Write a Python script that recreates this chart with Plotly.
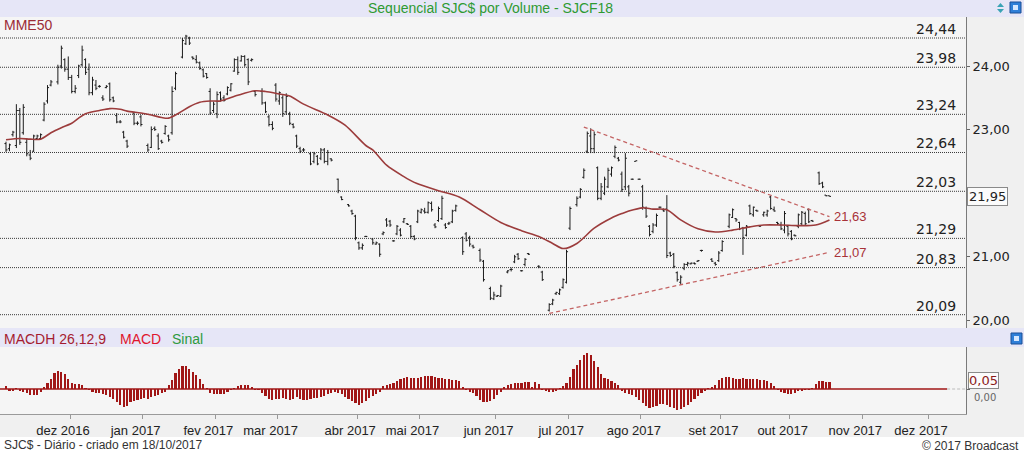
import plotly.graph_objects as go
import pandas as pd

# ---------------- calendar (B3 trading days) ----------------
holidays = ["2016-11-15", "2016-12-30", "2017-01-25", "2017-02-27", "2017-02-28",
            "2017-04-14", "2017-04-21", "2017-05-01", "2017-06-15", "2017-09-07",
            "2017-10-12", "2017-11-02", "2017-11-15", "2017-11-20", "2017-12-25",
            "2017-12-29"]
trade_dates = [d.strftime("%Y-%m-%d") for d in pd.bdate_range("2016-11-03", "2017-12-31")
               if d.strftime("%Y-%m-%d") not in holidays]

month_keys = ["2016-12", "2017-01", "2017-02", "2017-03", "2017-04", "2017-05", "2017-06",
              "2017-07", "2017-08", "2017-09", "2017-10", "2017-11", "2017-12"]
month_labels = ["dez 2016", "jan 2017", "fev 2017", "mar 2017", "abr 2017", "mai 2017",
                "jun 2017", "jul 2017", "ago 2017", "set 2017", "out 2017", "nov 2017",
                "dez 2017"]

# ---------------- price bars (one per trading day, None = no trade) ----------------
N = None
highs = [22.81, 22.78, 22.98, 23.40, 23.34, 23.40, 22.86, 22.68, 22.92, 22.92,
         22.94, 23.43, 23.70, 23.78, N, 24.02, 24.32, 24.12, 24.15, 23.86,
         23.70, 24.02, 24.32, 24.12, 24.04, 23.83, 23.78, 23.70, 23.54, 23.70,
         23.74, 23.52, 23.26, 23.15, 22.98, 22.84, N, 23.28, 23.13, 23.23,
         N, 22.78, 23.05, 23.05, 22.94, 22.84, 23.07, 22.92, 23.68, 23.91,
         N, 24.44, 24.49, 24.46, 24.15, 24.17, 24.07, 23.96, 23.89, 23.65,
         23.44, 23.60, 23.60, 23.54, 23.68, 23.73, 24.12, 24.15, 24.17, 24.17,
         24.12, 24.12, 23.62, N, 23.65, 23.44, 23.23, 23.13, 23.73, 23.60,
         23.54, 23.57, 23.28, 23.10, 22.92, 22.73, 22.71, N, 22.65, 22.65,
         22.60, 22.71, 22.71, 22.68, 22.55, N, 22.23, 21.95, N, 21.83,
         21.74, 21.66, 21.24, 21.21, 21.33, N, 21.29, 21.24, 21.21, 21.40,
         21.61, 21.58, 21.26, 21.50, 21.45, 21.61, 21.53, 21.50, 21.34, 21.74,
         21.76, 21.77, 21.87, 21.87, 21.53, 21.79, 21.96, 21.53, 21.55, 21.74,
         21.82, N, 21.32, 21.39, 21.33, 21.19, N, 21.13, 20.95, N,
         20.53, 20.45, 20.40, 20.56, N, 20.79, 20.83, 21.03, 21.06, 20.79,
         20.98, 21.06, N, N, 20.87, 20.78, N, 20.27, 20.34, 20.45,
         20.50, 20.66, 21.11, 21.79, N, 21.95, 22.08, 22.39, 22.97, 23.02,
         22.97, 22.42, 22.16, 22.26, 22.40, 22.42, 22.75, 22.57, 22.34, 22.63,
         22.13, 22.23, 22.51, 22.23, 22.13, 21.79, 21.50, 21.53, 21.68, 21.79,
         21.76, 21.97, 21.08, 21.06, 20.77, 20.71, 20.90, 20.92, 20.91, 20.91,
         20.95, 21.11, N, N, 20.98, 20.92, 21.09, 21.26, N, 21.68,
         21.76, 21.61, 21.55, 21.47, 21.50, 21.82, 21.79, 21.74, 21.50, 21.71,
         21.74, 21.96, 21.79, 21.55, 21.55, 21.72, 21.50, 21.42, 21.35, 21.68,
         21.72, 21.71, 21.76, 21.58, N, 22.34, 22.18, 21.97, 21.96]
lows = [22.65, 22.66, 22.89, 22.71, 22.76, 22.92, 22.58, 22.52, 22.65, 22.84,
        22.84, 23.13, 23.41, 23.68, N, 23.71, 23.96, 23.91, 23.78, 23.57,
        23.57, 23.81, 23.99, 23.86, 23.54, 23.54, 23.62, 23.66, 23.45, 23.65,
        23.44, 23.43, 23.10, 23.10, 22.86, 22.71, N, 23.07, 23.07, 23.05,
        N, 22.65, 22.71, 22.98, 22.68, 22.78, 22.92, 22.81, 22.92, 23.62,
        N, 24.12, 24.33, 24.33, 24.10, 24.04, 23.94, 23.82, 23.80, 23.23,
        23.26, 23.18, 23.44, 23.44, 23.54, 23.60, 23.91, 23.86, 24.07, 23.99,
        23.70, 24.07, 23.52, N, 23.39, 23.26, 23.05, 22.99, 23.44, 23.39,
        23.20, 23.23, 23.07, 23.02, 22.71, 22.63, 22.65, N, 22.44, 22.47,
        22.44, 22.52, 22.47, 22.44, 22.50, N, 22.00, 21.89, N, 21.79,
        21.66, 21.26, 21.11, 21.11, 21.31, N, 21.19, 21.19, 21.00, 21.34,
        21.47, 21.47, 21.24, 21.34, 21.32, 21.53, 21.50, 21.29, 21.26, 21.53,
        21.68, 21.68, 21.68, 21.71, 21.45, 21.55, 21.58, 21.44, 21.50, 21.53,
        21.71, N, 21.03, 21.24, 21.16, 21.13, N, 20.92, 20.61, N,
        20.32, 20.32, 20.37, 20.37, N, 20.74, 20.77, 20.90, 20.95, 20.77,
        20.85, 21.03, N, N, 20.82, 20.62, N, 20.14, 20.24, 20.40,
        20.40, 20.50, 20.58, 21.42, N, 21.79, 21.92, 22.23, 22.63, 22.63,
        22.63, 21.89, 21.89, 21.97, 22.08, 22.26, 22.55, 22.50, 22.02, 22.05,
        21.95, 22.21, 22.50, 22.21, 21.74, 21.61, 21.32, 21.37, 21.47, 21.76,
        21.71, 20.98, 21.00, 20.82, 20.61, 20.56, 20.79, 20.85, 20.88, 20.88,
        20.92, 21.08, N, N, 20.92, 20.86, 20.92, 21.08, N, 21.45,
        21.61, 21.55, 21.42, 21.03, 21.32, 21.66, 21.63, 21.71, 21.47, 21.63,
        21.63, 21.74, 21.71, 21.50, 21.42, 21.37, 21.32, 21.26, 21.32, 21.45,
        21.50, 21.50, 21.53, 21.55, N, 22.13, 22.08, 21.95, 21.95]
opens = [22.78, 22.70, 22.92, 22.75, 23.30, 22.95, 22.80, 22.60, 22.66, 22.86,
         22.86, 23.15, 23.45, 23.70, N, 23.75, 24.00, 24.10, 23.95, 23.82,
         23.60, 23.85, 24.02, 24.10, 23.95, 23.58, 23.70, 23.68, 23.50, 23.66,
         23.72, 23.50, 23.22, 23.12, 22.96, 22.82, N, 23.26, 23.10, 23.20,
         N, 22.75, 22.72, 23.02, 22.90, 22.82, 22.94, 22.90, 22.95, 23.65,
         N, 24.14, 24.35, 24.44, 24.14, 24.10, 24.05, 23.94, 23.88, 23.60,
         23.30, 23.25, 23.58, 23.50, 23.56, 23.62, 23.92, 24.10, 24.08, 24.15,
         24.10, 24.09, 23.60, N, 23.60, 23.42, 23.20, 23.08, 23.70, 23.45,
         23.50, 23.28, 23.25, 23.08, 22.90, 22.70, 22.68, N, 22.62, 22.50,
         22.58, 22.55, 22.68, 22.50, 22.54, N, 22.22, 21.94, N, 21.82,
         21.72, 21.64, 21.22, 21.14, 21.32, N, 21.28, 21.20, 21.20, 21.36,
         21.58, 21.56, 21.25, 21.36, 21.42, 21.55, 21.52, 21.48, 21.32, 21.55,
         21.70, 21.72, 21.70, 21.84, 21.50, 21.57, 21.60, 21.50, 21.52, 21.55,
         21.73, N, 21.30, 21.36, 21.30, 21.17, N, 21.10, 20.93, N,
         20.50, 20.34, 20.38, 20.38, N, 20.76, 20.80, 20.92, 21.04, 20.78,
         20.88, 21.05, N, N, 20.85, 20.76, N, 20.16, 20.26, 20.42,
         20.42, 20.52, 20.60, 21.45, N, 21.82, 21.94, 22.25, 22.66, 22.90,
         22.70, 22.40, 21.92, 22.00, 22.10, 22.30, 22.58, 22.55, 22.30, 22.10,
         22.10, 22.22, 22.50, 22.22, 22.10, 21.76, 21.48, 21.40, 21.50, 21.78,
         21.74, 21.75, 21.06, 21.04, 20.75, 20.60, 20.82, 20.88, 20.89, 20.90,
         20.93, 21.10, N, N, 20.96, 20.90, 20.94, 21.10, N, 21.48,
         21.62, 21.60, 21.54, 21.45, 21.34, 21.80, 21.66, 21.73, 21.48, 21.66,
         21.66, 21.94, 21.74, 21.54, 21.50, 21.42, 21.48, 21.40, 21.34, 21.48,
         21.52, 21.68, 21.74, 21.57, N, 22.32, 22.16, 21.97, 21.96]
closes = [22.68, 22.76, 22.96, 23.30, 22.80, 23.35, 22.62, 22.55, 22.90, 22.90,
          22.92, 23.40, 23.66, 23.75, N, 23.98, 24.28, 23.95, 23.82, 23.60,
          23.65, 24.00, 24.25, 23.90, 23.58, 23.78, 23.65, 23.68, 23.48, 23.68,
          23.47, 23.45, 23.12, 23.12, 22.88, 22.74, N, 23.10, 23.10, 23.08,
          N, 22.68, 23.00, 23.00, 22.70, 22.80, 23.05, 22.84, 23.60, 23.88,
          N, 24.40, 24.47, 24.36, 24.12, 24.06, 23.96, 23.84, 23.82, 23.26,
          23.40, 23.55, 23.48, 23.46, 23.66, 23.72, 24.10, 23.90, 24.15, 24.02,
          23.75, 24.10, 23.55, N, 23.42, 23.28, 23.08, 23.02, 23.48, 23.58,
          23.25, 23.52, 23.10, 23.04, 22.74, 22.66, 22.68, N, 22.46, 22.62,
          22.46, 22.68, 22.50, 22.64, 22.52, N, 22.04, 21.90, N, 21.80,
          21.68, 21.30, 21.14, 21.18, 21.32, N, 21.22, 21.22, 21.04, 21.38,
          21.50, 21.50, 21.25, 21.48, 21.34, 21.60, 21.51, 21.32, 21.28, 21.72,
          21.74, 21.70, 21.85, 21.74, 21.47, 21.76, 21.92, 21.46, 21.53, 21.72,
          21.80, N, 21.08, 21.26, 21.20, 21.15, N, 20.95, 20.64, N,
          20.35, 20.40, 20.39, 20.54, N, 20.78, 20.80, 21.00, 20.97, 20.78,
          20.96, 21.04, N, N, 20.84, 20.64, N, 20.25, 20.32, 20.44,
          20.48, 20.64, 21.08, 21.76, N, 21.92, 22.06, 22.36, 22.94, 22.70,
          22.92, 21.92, 22.10, 22.22, 22.36, 22.40, 22.72, 22.52, 22.06, 22.55,
          22.00, 22.22, 22.51, 22.22, 21.78, 21.64, 21.35, 21.50, 21.65, 21.78,
          21.72, 21.02, 21.02, 20.85, 20.64, 20.68, 20.88, 20.90, 20.90, 20.89,
          20.94, 21.10, N, N, 20.93, 20.88, 21.06, 21.24, N, 21.66,
          21.74, 21.58, 21.44, 21.30, 21.48, 21.68, 21.78, 21.72, 21.49, 21.70,
          21.72, 21.76, 21.72, 21.52, 21.44, 21.68, 21.36, 21.28, 21.33, 21.66,
          21.70, 21.52, 21.55, 21.56, N, 22.15, 22.10, 21.96, 21.95]

# ---------------- MME50 ----------------
ema_idx = [0, 4, 7, 10, 13, 16, 19, 21, 23, 27, 30, 33, 35, 39, 42, 45, 47, 50, 53, 56,
           59, 62, 67, 72, 75, 79, 82, 86, 93, 98, 104, 106, 110, 115, 118, 120, 125, 131,
           137, 143, 149, 154, 158, 161, 165, 170, 175, 178, 180, 184, 187, 191, 195, 200,
           205, 210, 215, 219, 224, 229, 234, 238]
ema_vals = [22.84, 22.86, 22.85, 22.85, 22.95, 23.03, 23.10, 23.18, 23.25, 23.30, 23.33,
            23.32, 23.29, 23.26, 23.23, 23.19, 23.18, 23.26, 23.36, 23.43, 23.45, 23.45,
            23.54, 23.61, 23.60, 23.56, 23.53, 23.40, 23.23, 23.07, 22.75, 22.68, 22.44,
            22.26, 22.17, 22.13, 22.04, 21.94, 21.74, 21.54, 21.41, 21.32, 21.21, 21.13,
            21.21, 21.45, 21.61, 21.68, 21.72, 21.77, 21.75, 21.74, 21.58, 21.44, 21.39,
            21.42, 21.47, 21.50, 21.50, 21.49, 21.50, 21.58]

# ---------------- trend lines ----------------
upper_idx = [167, 238]
upper_vals = [23.04, 21.63]
lower_idx = [157, 238]
lower_vals = [20.11, 21.07]

# ---------------- horizontal levels ----------------
levels = [24.44, 23.98, 23.24, 22.64, 22.03, 21.29, 20.83, 20.09]
price_ticks = [20.0, 21.0, 23.0, 24.0]
last_price = 21.95

# ---------------- MACD histogram ----------------
macdh = [0.019, -0.011, -0.016, 0.007, -0.011, -0.021, -0.032, -0.043, -0.045, -0.043,
         -0.018, 0.014, 0.043, 0.071, 0.114, 0.126, 0.125, 0.107, 0.071, 0.043,
         0.036, 0.039, 0.029, 0.007, -0.007, -0.018, -0.025, -0.032, -0.039, -0.046,
         -0.057, -0.071, -0.093, -0.114, -0.131, -0.121, -0.093, -0.089, -0.079, -0.071,
         -0.061, -0.068, -0.057, -0.050, -0.043, -0.032, -0.018, 0.029, 0.064, 0.114,
         0.146, 0.164, 0.161, 0.143, 0.121, 0.100, 0.071, 0.036, 0.007, -0.029,
         -0.036, -0.039, -0.039, -0.036, -0.021, -0.004, 0.007, 0.021, 0.032, 0.029,
         0.029, 0.011, -0.004, -0.007, -0.029, -0.050, -0.071, -0.079, -0.071, -0.068,
         -0.064, -0.068, -0.075, -0.068, -0.057, -0.071, -0.082, -0.079, -0.071, -0.064,
         -0.061, -0.057, -0.050, -0.036, -0.029, -0.021, -0.029, -0.036, -0.057, -0.071,
         -0.086, -0.100, -0.111, -0.100, -0.086, -0.064, -0.050, -0.036, -0.021, 0.018,
         0.032, 0.039, 0.046, 0.057, 0.071, 0.079, 0.086, 0.082, 0.079, 0.082,
         0.089, 0.096, 0.096, 0.093, 0.089, 0.082, 0.079, 0.071, 0.068, 0.064,
         0.061, 0.057, 0.014, -0.007, -0.018, -0.032, -0.050, -0.079, -0.093, -0.096,
         -0.089, -0.071, -0.043, -0.018, 0.011, 0.029, 0.036, 0.043, 0.043, 0.046,
         0.050, 0.050, 0.011, 0.050, 0.036, -0.007, -0.014, -0.021, -0.021, -0.014,
         0.007, 0.021, 0.043, 0.089, 0.143, 0.171, 0.207, 0.243, 0.257, 0.246,
         0.200, 0.157, 0.107, 0.079, 0.068, 0.057, 0.046, 0.029, -0.014, -0.025,
         -0.036, -0.043, -0.057, -0.079, -0.100, -0.121, -0.136, -0.132, -0.118, -0.107,
         -0.104, -0.111, -0.125, -0.139, -0.150, -0.146, -0.132, -0.114, -0.093, -0.071,
         -0.050, -0.029, -0.011, 0.004, 0.014, 0.029, 0.064, 0.082, 0.089, 0.086,
         0.079, 0.071, 0.075, 0.079, 0.075, 0.075, 0.071, 0.068, 0.064, 0.061,
         0.057, 0.046, 0.025, -0.007, -0.018, -0.025, -0.036, -0.036, -0.025, -0.014,
         -0.011, -0.007, -0.007, 0.004, 0.036, 0.057, 0.054, 0.050, 0.050]
macdh_last = 0.05
macd_zero_label = "0,00"
macd_line_end = 272

# ---------------- geometry ----------------
W, H = 1024, 453
def px(x):
    return x / W
def py(y):
    return (H - y) / H

X_RANGE = [-1.73, 277.46]
X_DOM = [0, px(966)]
PRICE_DOM = [py(328), py(17)]
MACD_DOM = [py(414), py(347)]
PRICE_RANGE = [19.8805, 24.7704]
MACD_RANGE = [-0.1786, 0.30]

def fmt(v):
    return f"{v:.2f}".replace(".", ",")

month_ticks = [next(i for i, d in enumerate(trade_dates) if d.startswith(k)) - 0.5
               for k in month_keys]

bars = [(i, o, h, l, c) for i, (o, h, l, c) in enumerate(zip(opens, highs, lows, closes))
        if h is not None]

fig = go.Figure()
fig.add_trace(go.Ohlc(
    x=[b[0] for b in bars], open=[b[1] for b in bars], high=[b[2] for b in bars],
    low=[b[3] for b in bars], close=[b[4] for b in bars],
    increasing=dict(line=dict(color="#1c1c1c", width=1)),
    decreasing=dict(line=dict(color="#1c1c1c", width=1)),
    tickwidth=0.45, xaxis="x", yaxis="y", showlegend=False, hoverinfo="skip"))
fig.add_trace(go.Scatter(x=ema_idx, y=ema_vals, mode="lines", line=dict(color="#9c3c3c", width=1.6, shape="spline", smoothing=0.8),
                         xaxis="x", yaxis="y", showlegend=False, hoverinfo="skip"))
fig.add_trace(go.Scatter(x=upper_idx, y=upper_vals, mode="lines", line=dict(color="#c46464", width=1.3, dash="4px,3px"),
                         xaxis="x", yaxis="y", showlegend=False, hoverinfo="skip"))
fig.add_trace(go.Scatter(x=lower_idx, y=lower_vals, mode="lines", line=dict(color="#c46464", width=1.3, dash="4px,3px"),
                         xaxis="x", yaxis="y", showlegend=False, hoverinfo="skip"))
fig.add_trace(go.Bar(x=list(range(len(macdh))), y=macdh, width=0.62, marker=dict(color="#a11616", line=dict(width=0)),
                     xaxis="x2", yaxis="y2", showlegend=False, hoverinfo="skip"))

shapes = []
# bands
shapes.append(dict(type="rect", xref="paper", yref="paper", x0=0, x1=1, y0=py(17), y1=1,
                   fillcolor="#e6e6f7", line=dict(width=0), layer="below"))
shapes.append(dict(type="rect", xref="paper", yref="paper", x0=0, x1=1, y0=py(347), y1=py(328),
                   fillcolor="#e6e6f7", line=dict(width=0), layer="below"))
shapes.append(dict(type="rect", xref="paper", yref="paper", x0=0, x1=1, y0=0, y1=py(437),
                   fillcolor="#ffffff", line=dict(width=0), layer="below"))
# level lines
for lv in levels:
    shapes.append(dict(type="line", xref="x", yref="y", x0=X_RANGE[0], x1=X_RANGE[1], y0=lv, y1=lv,
                       line=dict(color="#3a3a3a", width=1, dash="1px,1px"), layer="below"))
# macd baseline
shapes.append(dict(type="line", xref="x2", yref="y2", x0=X_RANGE[0], x1=macd_line_end, y0=0, y1=0,
                   line=dict(color="#a11616", width=1.5)))
shapes.append(dict(type="line", xref="x2", yref="y2", x0=macd_line_end, x1=X_RANGE[1], y0=0, y1=0,
                   line=dict(color="#bbbbbb", width=1, dash="3px,2px")))
# icons
shapes.append(dict(type="path", xref="paper", yref="paper",
                   path=f"M {px(997)},{py(7)} L {px(1004)},{py(7)} L {px(1000.5)},{py(3)} Z",
                   fillcolor="#3aa3b5", line=dict(width=0)))
shapes.append(dict(type="path", xref="paper", yref="paper",
                   path=f"M {px(997)},{py(9)} L {px(1004)},{py(9)} L {px(1000.5)},{py(13)} Z",
                   fillcolor="#3aa3b5", line=dict(width=0)))
for (ix0, iy0) in [(1010, 2), (1011, 333)]:
    shapes.append(dict(type="rect", xref="paper", yref="paper", x0=px(ix0), x1=px(ix0 + 11),
                       y0=py(iy0 + 11), y1=py(iy0), fillcolor="#2f7fd8", line=dict(color="#1b4f96", width=1)))
    shapes.append(dict(type="rect", xref="paper", yref="paper", x0=px(ix0 + 3), x1=px(ix0 + 8),
                       y0=py(iy0 + 8), y1=py(iy0 + 3), fillcolor="#d5e7ff", line=dict(width=0)))

ann = []
ann.append(dict(text="Sequencial SJC$ por Volume - SJCF18", x=px(490), y=py(8.5), xref="paper", yref="paper",
                showarrow=False, xanchor="center", yanchor="middle",
                font=dict(family="Liberation Sans, Arial", size=14, color="#2e9a32")))
ann.append(dict(text="MME50", x=px(2), y=py(25), xref="paper", yref="paper", showarrow=False,
                xanchor="left", yanchor="middle", font=dict(family="Liberation Sans, Arial", size=14, color="#9b2b35")))
ann.append(dict(text="MACDH 26,12,9", x=px(2), y=py(339), xref="paper", yref="paper", showarrow=False,
                xanchor="left", yanchor="middle", font=dict(family="Liberation Sans, Arial", size=14, color="#a51c30")))
ann.append(dict(text="MACD", x=px(118), y=py(339), xref="paper", yref="paper", showarrow=False,
                xanchor="left", yanchor="middle", font=dict(family="Liberation Sans, Arial", size=14, color="#e0142c")))
ann.append(dict(text="Sinal", x=px(170), y=py(339), xref="paper", yref="paper", showarrow=False,
                xanchor="left", yanchor="middle", font=dict(family="Liberation Sans, Arial", size=14, color="#2e9a3e")))
ann.append(dict(text="SJC$ - Diário - criado em 18/10/2017", x=px(2), y=py(445), xref="paper", yref="paper",
                showarrow=False, xanchor="left", yanchor="middle",
                font=dict(family="Liberation Sans, Arial", size=12, color="#333333")))
ann.append(dict(text="© 2017 Broadcast", x=px(1021), y=py(445.5), xref="paper", yref="paper",
                showarrow=False, xanchor="right", yanchor="middle",
                font=dict(family="Liberation Sans, Arial", size=12, color="#333333")))
for lv in levels:
    ann.append(dict(text=fmt(lv), x=px(958), y=lv, xref="paper", yref="y", showarrow=False,
                    xanchor="right", yanchor="bottom", yshift=-1,
                    font=dict(family="DejaVu Sans", size=14, color="#222222")))
ann.append(dict(text=fmt(upper_vals[-1]), x=upper_idx[-1] + 0.6, y=upper_vals[-1], xref="x", yref="y",
                showarrow=False, xanchor="left", yanchor="middle",
                font=dict(family="Liberation Sans, Arial", size=13, color="#a83238")))
ann.append(dict(text=fmt(lower_vals[-1]), x=lower_idx[-1] + 0.6, y=lower_vals[-1], xref="x", yref="y",
                showarrow=False, xanchor="left", yanchor="middle",
                font=dict(family="Liberation Sans, Arial", size=13, color="#a83238")))
ann.append(dict(text=fmt(last_price), x=px(967), y=last_price, xref="paper", yref="y", showarrow=False,
                xanchor="left", yanchor="middle", bordercolor="#8a8a8a", borderwidth=1, borderpad=1,
                bgcolor="#fbfbfb", font=dict(family="DejaVu Sans", size=13, color="#222222")))
ann.append(dict(text=fmt(macdh_last), x=px(968), y=macdh_last, xref="paper", yref="y2", showarrow=False,
                xanchor="left", yanchor="middle", yshift=2, bordercolor="#8a8a8a", borderwidth=1, borderpad=0,
                bgcolor="#fbfbfb", font=dict(family="DejaVu Sans", size=13, color="#8b1a1a")))
ann.append(dict(text=macd_zero_label, x=px(972), y=0, xref="paper", yref="y2", showarrow=False,
                xanchor="left", yanchor="top", yshift=-1,
                font=dict(family="DejaVu Sans", size=10, color="#666666")))

fig.update_layout(
    width=W, height=H, margin=dict(l=0, r=0, t=0, b=0),
    paper_bgcolor="#f0f0f0", plot_bgcolor="#f5f5f5",
    showlegend=False, bargap=0,
    xaxis=dict(domain=X_DOM, range=X_RANGE, anchor="y", showticklabels=False, ticks="",
               showgrid=False, zeroline=False, showline=False, rangeslider=dict(visible=False)),
    yaxis=dict(domain=PRICE_DOM, range=PRICE_RANGE, anchor="x", side="right",
               tickvals=price_ticks, ticktext=[fmt(v) for v in price_ticks],
               ticks="outside", ticklen=3, tickcolor="#666666", showline=True, linecolor="#7a7a7a",
               showgrid=False, zeroline=False,
               tickfont=dict(family="DejaVu Sans", size=13, color="#222222")),
    xaxis2=dict(domain=X_DOM, range=X_RANGE, anchor="y2", tickvals=month_ticks, ticktext=month_labels,
                ticks="outside", ticklen=4, tickcolor="#999999", showline=True, linecolor="#9a9a9a",
                showgrid=False, zeroline=False, ticklabelshift=-7,
                tickfont=dict(family="Liberation Sans, Arial", size=13, color="#222222")),
    yaxis2=dict(domain=MACD_DOM, range=MACD_RANGE, anchor="x2", side="right",
                tickvals=[0], ticks="outside", ticklen=3, tickcolor="#666666", showticklabels=False,
                showline=True, linecolor="#7a7a7a", showgrid=False, zeroline=False),
    shapes=shapes, annotations=ann,
)

fig.write_html("out.html")
